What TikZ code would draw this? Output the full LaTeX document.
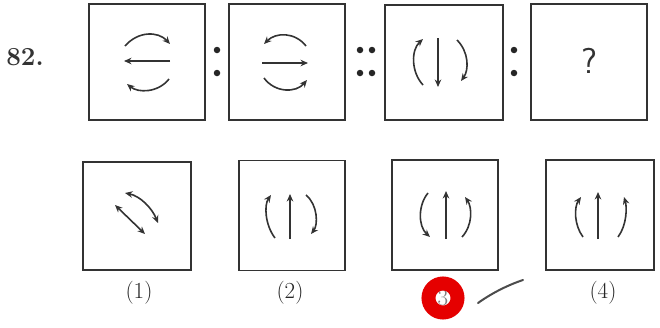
\documentclass[tikz,border=0pt]{standalone}
\usetikzlibrary{arrows.meta}
\begin{document}
\begin{tikzpicture}[x=1pt,y=-1pt,
  fig/.style={draw=black!80,line width=1.4pt,inner sep=0pt},
  arr/.style={draw=black!80,line width=1.6pt,-{Stealth[length=7.5pt,width=6.5pt]}},
  darr/.style={draw=black!80,line width=1.6pt,{Stealth[length=7.5pt,width=6.5pt]}-{Stealth[length=7.5pt,width=6.5pt]}},
  dot/.style={circle,fill=black!85,inner sep=0pt,minimum size=6.5pt},
  lab/.style={font=\fontsize{23}{23}\selectfont,text=black!85}]
\useasboundingbox (0,0) rectangle (660,327);
% question number
\node[font=\fontsize{26}{26}\bfseries\selectfont,text=black!80] (num) at (25,57) {82.};
% top boxes
\node[fig,minimum width=116pt,minimum height=116pt] (t1) at (147,62) {};
\node[fig,minimum width=116pt,minimum height=116pt] (t2) at (287,62) {};
\node[fig,minimum width=118pt,minimum height=115pt] (t3) at (444,62.5) {};
\node[fig,minimum width=116pt,minimum height=116pt] (t4) at (589,62) {};
% colons
\node[dot] (c1a) at (217,50) {}; \node[dot] (c1b) at (217,73) {};
\node[dot] (c2a) at (360,50) {}; \node[dot] (c2b) at (360,73) {};
\node[dot] (c3a) at (372,50) {}; \node[dot] (c3b) at (372,73) {};
\node[dot] (c4a) at (514,50) {}; \node[dot] (c4b) at (514,73) {};
% box t1
\draw[arr] (125,46) .. controls (138,31) and (158,31) .. (170,44);
\draw[arr] (170,61) -- (124,61);
\draw[arr] (169,79) .. controls (158,93) and (138,93) .. (127,84);
% box t2
\draw[arr] (306,46) .. controls (295,32) and (276,32) .. (264,44);
\draw[arr] (262,63) -- (308,63);
\draw[arr] (264,78) .. controls (275,93) and (296,93) .. (307,80);
% box t3
\draw[arr] (423,85) .. controls (411,72) and (411,50) .. (423,39);
\draw[arr] (438,38) -- (438,87);
\draw[arr] (457,40) .. controls (469,52) and (469,70) .. (461,81);
% box t4
\node[font=\sffamily\fontsize{36}{36}\selectfont,text=black!80] (q) at (589,61) {?};
% bottom boxes
\node[fig,minimum width=108pt,minimum height=108pt] (b1) at (137,216) {};
\node[fig,minimum width=106pt,minimum height=110pt] (b2) at (292,215.5) {};
\node[fig,minimum width=106pt,minimum height=110pt] (b3) at (445,215) {};
\node[fig,minimum width=108pt,minimum height=110pt] (b4) at (600,215) {};
% b1
\draw[darr] (125,193) .. controls (140,196) and (152,208) .. (158,223);
\draw[darr] (115,205) -- (145,234);
% b2
\draw[arr] (275,238) .. controls (265,225) and (264,205) .. (271,195);
\draw[arr] (290,239) -- (290,194);
\draw[arr] (306,195) .. controls (318,205) and (318,225) .. (311,234);
% b3
\draw[arr] (428,193) .. controls (418,205) and (418,226) .. (430,237);
\draw[arr] (446,239) -- (446,191);
\draw[arr] (462,237) .. controls (473,225) and (472,207) .. (465,197);
% b4
\draw[arr] (583,237) .. controls (574,225) and (574,207) .. (581,197);
\draw[arr] (598,239) -- (598,192);
\draw[arr] (618,237) .. controls (627,225) and (627,207) .. (624,197);
% labels
\node[lab] (l1) at (139,293) {(1)};
\node[lab] (l2) at (290,293) {(2)};
\node[lab,text=black!50] (l3) at (443,298) {3};
\draw[red!90!black,line width=14pt] (l3.center) circle (14.5);
\node[lab] (l4) at (603,293) {(4)};
\coordinate (s1) at (478,303);
\coordinate (s2) at (523,280);
\draw[black!70,line width=2pt,line cap=round] (s1) .. controls (492,293) and (508,285) .. (s2);
\end{tikzpicture}
\end{document}
